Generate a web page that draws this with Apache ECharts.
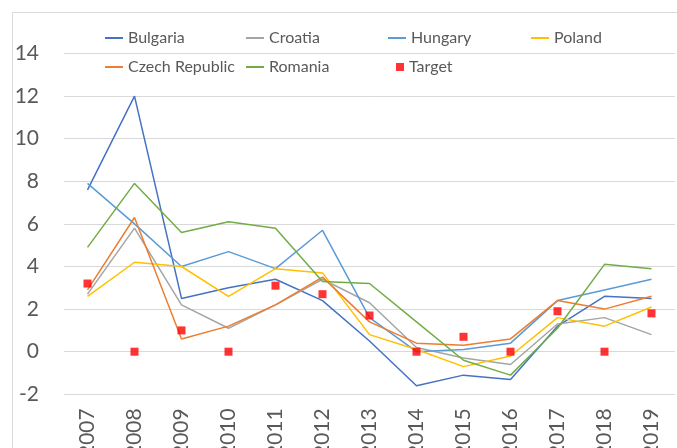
<!DOCTYPE html>
<html>
<head>
<meta charset="utf-8">
<script src="https://cdn.jsdelivr.net/npm/echarts@6/dist/echarts.min.js"></script>
<style>
  html, body { margin: 0; padding: 0; background: #fff; }
  #chart { width: 677px; height: 448px; }
</style>
</head>
<body>
<div id="chart"></div>
<script>
var years = ['2007', '2008', '2009', '2010', '2011', '2012', '2013', '2014', '2015', '2016', '2017', '2018', '2019'];
var bulgaria = [7.6, 12.0, 2.5, 3.0, 3.4, 2.4, 0.5, -1.6, -1.1, -1.3, 1.2, 2.6, 2.5];
var croatia = [2.7, 5.8, 2.2, 1.1, 2.2, 3.4, 2.3, 0.2, -0.3, -0.6, 1.3, 1.6, 0.8];
var hungary = [7.9, 6.0, 4.0, 4.7, 3.9, 5.7, 1.6, 0.0, 0.1, 0.4, 2.4, 2.9, 3.4];
var poland = [2.6, 4.2, 4.0, 2.6, 3.9, 3.7, 0.8, 0.1, -0.7, -0.2, 1.6, 1.2, 2.1];
var czech = [2.9, 6.3, 0.6, 1.2, 2.2, 3.5, 1.4, 0.4, 0.3, 0.6, 2.4, 2.0, 2.6];
var romania = [4.9, 7.9, 5.6, 6.1, 5.8, 3.3, 3.2, 1.4, -0.4, -1.1, 1.1, 4.1, 3.9];
var target = [3.2, 0, 1.0, 0, 3.1, 2.7, 1.7, 0, 0.7, 0, 1.9, 0, 1.8];

var font = 'Lato, "Open Sans", sans-serif';
var textColor = '#595959';

function line(name, data, color) {
	return {
		name: name,
		type: 'line',
		data: data,
		showSymbol: false,
		symbol: 'none',
		lineStyle: { color: color, width: 1.5 },
		itemStyle: { color: color },
		emphasis: { disabled: true }
	};
}

// one legend per item so the columns line up like the original
function leg(name, left, top, w, h) {
	return {
		data: [{ name: name, icon: 'rect' }],
		left: left,
		top: top,
		padding: 0,
		itemWidth: w,
		itemHeight: h,
		selectedMode: false,
		textStyle: { fontFamily: font, fontSize: 16, color: textColor, lineHeight: 20 }
	};
}

var myChart = echarts.init(document.getElementById('chart'));
var option = {
	animation: false,
	backgroundColor: '#fff',
	graphic: [{
		type: 'rect',
		shape: { x: 12.5, y: 12.5, width: 700, height: 500 },
		style: { fill: 'none', stroke: '#D9D9D9', lineWidth: 1 },
		silent: true
	}],
	legend: [
		leg('Bulgaria', 105, 28, 18, 2),
		leg('Croatia', 246, 28, 18, 2),
		leg('Hungary', 388, 28, 18, 2),
		leg('Poland', 531, 28, 18, 2),
		leg('Czech Republic', 105, 57, 18, 2),
		leg('Romania', 246, 57, 18, 2),
		leg('Target', 396, 57, 8, 8)
	],
	grid: { left: 64, right: 2, top: 53.5, bottom: 53.7, outerBoundsMode: 'none', containLabel: false },
	xAxis: {
		type: 'category',
		data: years,
		boundaryGap: true,
		axisLine: { show: false },
		axisTick: { show: false },
		axisLabel: {
			rotate: 90,
			margin: 14,
			fontFamily: font,
			fontSize: 21,
			color: textColor
		}
	},
	yAxis: {
		type: 'value',
		min: -2,
		max: 14,
		interval: 2,
		axisLine: { show: false },
		axisTick: { show: false },
		axisLabel: { margin: 25, fontFamily: font, fontSize: 21, color: textColor },
		splitLine: { lineStyle: { color: '#D9D9D9', width: 1 } }
	},
	series: [
		line('Bulgaria', bulgaria, '#4472C4'),
		line('Croatia', croatia, '#A5A5A5'),
		line('Hungary', hungary, '#5B9BD5'),
		line('Poland', poland, '#FFC000'),
		line('Czech Republic', czech, '#ED7D31'),
		line('Romania', romania, '#70AD47'),
		{
			name: 'Target',
			type: 'scatter',
			data: target,
			symbol: 'rect',
			symbolSize: 8,
			itemStyle: { color: '#FF0000' },
			emphasis: { disabled: true },
			z: 5
		}
	]
};
myChart.setOption(option);
</script>
</body>
</html>
